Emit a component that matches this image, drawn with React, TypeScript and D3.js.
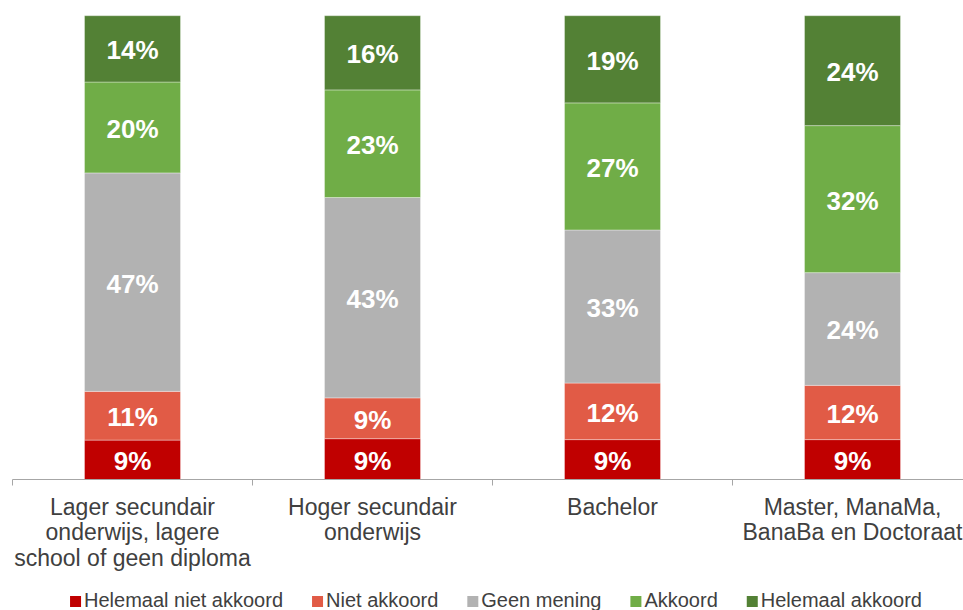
import React from "react";
import * as d3 from "d3";

const categories: string[][] = [
  ["Lager secundair", "onderwijs, lagere", "school of geen diploma"],
  ["Hoger secundair", "onderwijs"],
  ["Bachelor"],
  ["Master, ManaMa,", "BanaBa en Doctoraat"],
];

const seriesNames = [
  "Helemaal niet akkoord",
  "Niet akkoord",
  "Geen mening",
  "Akkoord",
  "Helemaal akkoord",
];

const helemaalNietAkkoord = [8.5, 8.8, 8.6, 8.6];
const nietAkkoord = [10.5, 8.8, 12.2, 11.7];
const geenMening = [47.1, 43.2, 33.0, 24.3];
const akkoord = [19.6, 23.2, 27.4, 31.7];
const helemaalAkkoord = [14.3, 16.0, 18.8, 23.7];

const seriesColors = ["#C00000", "#E15B46", "#B2B2B2", "#70AD47", "#538135"];

const W = 963;
const H = 610;

function measure(text: string, font: string): number {
  if (typeof document === "undefined") return text.length * 10;
  const c = document.createElement("canvas");
  const ctx = c.getContext("2d");
  if (!ctx) return text.length * 10;
  ctx.font = font;
  return ctx.measureText(text).width;
}

export default function App() {
  const seriesValues = [helemaalNietAkkoord, nietAkkoord, geenMening, akkoord, helemaalAkkoord];
  const rows = categories.map((_, i) => {
    const r: Record<string, number> = { idx: i };
    seriesNames.forEach((s, k) => (r[s] = seriesValues[k][i]));
    return r;
  });
  const stacked = d3.stack<Record<string, number>>().keys(seriesNames)(rows);

  const x = d3
    .scaleBand<number>()
    .domain(categories.map((_, i) => i))
    .range([12.5, 972.5])
    .paddingInner(0.6)
    .paddingOuter(0.3);
  const step = x.step();
  const y = d3.scaleLinear().domain([0, 100]).range([479.5, 15.7]);

  const labelFont = "Liberation Sans, Arial, Helvetica, sans-serif";
  const legendFontSize = 20;
  const legendWidths = seriesNames.map((s) => measure(s, `${legendFontSize}px "Liberation Sans"`));
  const sq = 11;
  const sqGap = 3;
  const itemGap = 29;
  const totalLegend =
    legendWidths.reduce((a, b) => a + b + sq + sqGap, 0) + itemGap * (seriesNames.length - 1);
  let lx = 496 - totalLegend / 2;
  const legendItems = seriesNames.map((s, k) => {
    const item = { name: s, x: lx, color: seriesColors[k] };
    lx += sq + sqGap + legendWidths[k] + itemGap;
    return item;
  });

  const tickXs = categories.map((_, i) => (x(i) as number) - (step - x.bandwidth()) / 2);

  return (
    <svg
      width={W}
      height={H}
      style={{ position: "absolute", left: 0, top: 0, display: "block", background: "#fff" }}
      fontFamily={labelFont}
    >
      {stacked.map((layer, k) => (
        <g key={layer.key}>
          {layer.map((d, i) => {
            const x0 = x(i) as number;
            const y0 = y(d[1]);
            const y1 = y(d[0]);
            return (
              <g key={i}>
                <rect
                  x={x0}
                  y={y0}
                  width={x.bandwidth()}
                  height={y1 - y0}
                  fill={seriesColors[k]}
                  stroke="rgba(255,255,255,0.35)"
                  strokeWidth={1}
                />
                <text
                  x={x0 + x.bandwidth() / 2}
                  y={(y0 + y1) / 2 + 10.5}
                  textAnchor="middle"
                  fill="#fff"
                  fontWeight="bold"
                  fontSize={26}
                >
                  {`${Math.round(d[1] - d[0])}%`}
                </text>
              </g>
            );
          })}
        </g>
      ))}

      <line x1={12.5} x2={W} y1={479.5} y2={479.5} stroke="#A6A6A6" strokeWidth={1} />
      {tickXs.map((tx, i) => (
        <line key={i} x1={tx} x2={tx} y1={479.5} y2={485.5} stroke="#A6A6A6" strokeWidth={1} />
      ))}

      {categories.map((lines, i) => (
        <text
          key={i}
          x={(x(i) as number) + x.bandwidth() / 2}
          y={514.5}
          textAnchor="middle"
          fill="#404040"
          fontSize={23}
        >
          {lines.map((ln, j) => (
            <tspan key={j} x={(x(i) as number) + x.bandwidth() / 2} dy={j === 0 ? 0 : 25.5}>
              {ln}
            </tspan>
          ))}
        </text>
      ))}

      {legendItems.map((it) => (
        <g key={it.name}>
          <rect x={it.x} y={596} width={sq} height={sq} fill={it.color} />
          <text x={it.x + sq + sqGap} y={607} fontSize={legendFontSize} fill="#404040">
            {it.name}
          </text>
        </g>
      ))}
    </svg>
  );
}
